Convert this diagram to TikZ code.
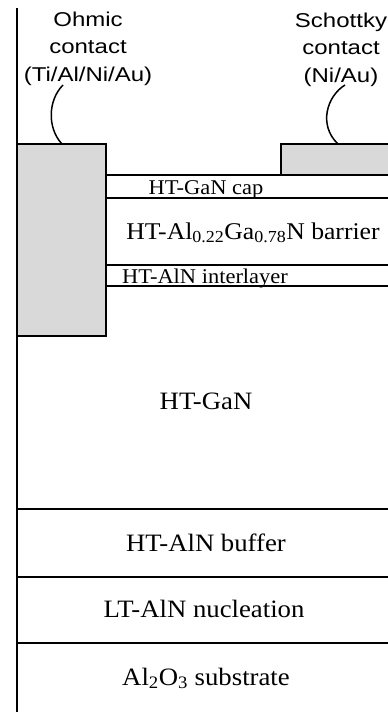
\documentclass[tikz,border=0pt]{standalone}
\usepackage{fontspec}
\setmainfont{Liberation Serif}[FakeStretch=1.07]
\newfontfamily\labelfont{Liberation Sans}[FakeStretch=1.2]
\usetikzlibrary{calc}

\begin{document}
\begin{tikzpicture}[x=1pt,y=-1pt,
  edge/.style={line width=1.8pt},
  metal/.style={draw, line width=1.8pt, fill=gray!30, inner sep=0pt, outer sep=0pt, anchor=north west},
  lab/.style={font=\labelfont\fontsize{20}{27.5}\selectfont, align=center, inner sep=0pt, anchor=base},
  bigtxt/.style={font=\fontsize{25}{30}\selectfont, inner sep=0pt, anchor=base},
  smalltxt/.style={font=\fontsize{21}{25}\selectfont, inner sep=0pt, anchor=base},
  lead/.style={line width=1.5pt}]
\useasboundingbox (0,0) rectangle (388,712);

% epitaxial layer boundaries
\draw[edge] (17,8) -- (17,720);
\draw[edge] (106,175) -- (281,175);
\foreach \yy in {198,265,286} \draw[edge] (106,\yy) -- (395,\yy);
\foreach \yy in {509,577,643} \draw[edge] (17,\yy) -- (395,\yy);

% metal contacts
\node[metal, minimum width=89pt, minimum height=192pt] (ohmbox) at (17,144) {};
\node[metal, minimum width=114pt, minimum height=31pt] (schbox) at (281,144) {};

% layer names
\node[smalltxt] (cap) at (206,194) {HT-GaN cap};
\node[bigtxt, font=\fontsize{24}{30}\selectfont] (barrier) at (253,239)
  {HT-Al\textsubscript{0.22}Ga\textsubscript{0.78}N barrier};
\node[smalltxt] (inter) at (205,283) {HT-AlN interlayer};
\node[bigtxt] (gan) at (206,409) {HT-GaN};
\node[bigtxt] (buffer) at (206,551) {HT-AlN buffer};
\node[bigtxt] (nucl) at (204,617) {LT-AlN nucleation};
\node[bigtxt] (subs) at (206,685) {Al\textsubscript{2}O\textsubscript{3} substrate};

% contact labels (anchored on the baseline of their last line) and their leads
\node[lab] (ohmlab) at (88,81) {Ohmic\\contact\\(Ti/Al/Ni/Au)};
\node[lab] (schlab) at (341,82) {Schottky\\contact\\(Ni/Au)};
\coordinate (ohmtip) at (63,85);
\coordinate (schtip) at (345,85);
\draw[lead] (ohmtip) .. controls (48,100) and (47,128) .. ($(ohmbox.north west)+(45,0)$);
\draw[lead] (schtip) .. controls (327,96) and (318,125) .. ($(schbox.north west)+(57,0)$);
\end{tikzpicture}
\end{document}
